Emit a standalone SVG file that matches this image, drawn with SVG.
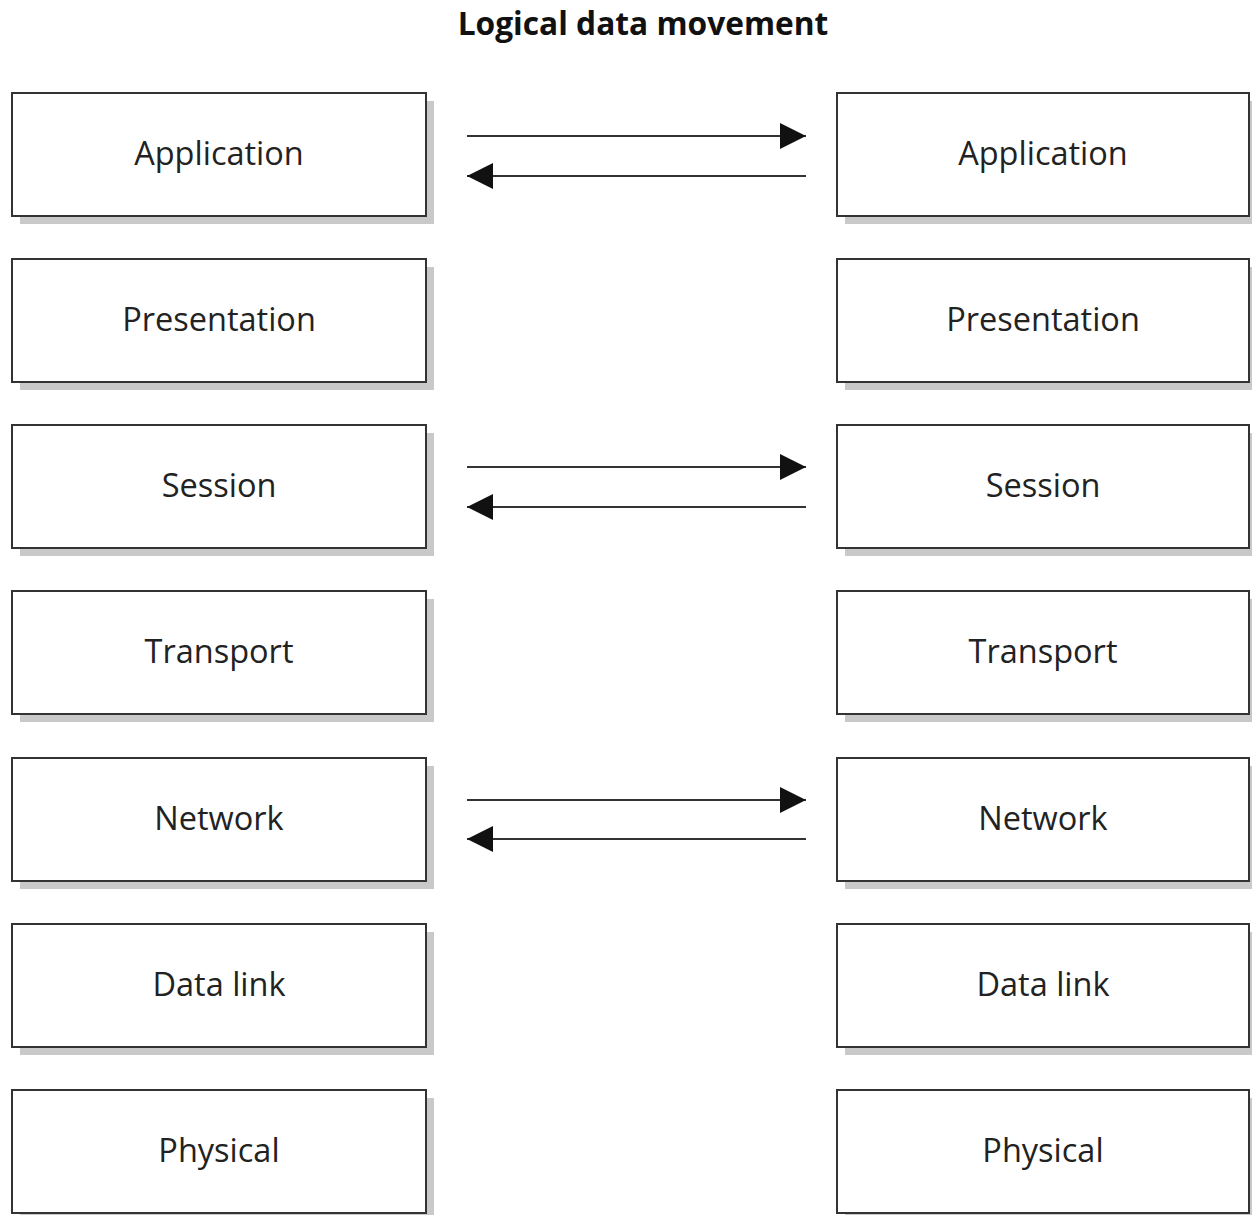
<svg xmlns="http://www.w3.org/2000/svg" width="1252" height="1215" viewBox="0 0 1252 1215">
<defs>
<style>
.sh{fill:#c9c9c9}
.bx{fill:#fff;stroke:#333;stroke-width:2}
.lb{font-family:"Open Sans","Noto Sans",sans-serif;font-size:32.5px;fill:#222;text-anchor:middle}
.tt{font-family:"Open Sans","Noto Sans",sans-serif;font-size:31.7px;font-weight:bold;fill:#111;text-anchor:middle}
.ar{stroke:#333;stroke-width:2;fill:none}
</style>
<marker id="ah" viewBox="0 0 26 26" refX="26" refY="13" markerWidth="26" markerHeight="26" markerUnits="userSpaceOnUse" orient="auto">
<path d="M0,0 L26,13 L0,26 Z" fill="#111"/>
</marker>
</defs>
<rect width="1252" height="1215" fill="#fff"/>
<text class="tt" x="643" y="35">Logical data movement</text>
<g id="L1"><rect class="sh" x="20" y="101" width="414" height="123"/><rect class="bx" x="12" y="93" width="414" height="123"/><text class="lb" x="219" y="165">Application</text></g>
<g id="L2"><rect class="sh" x="20" y="267" width="414" height="123"/><rect class="bx" x="12" y="259" width="414" height="123"/><text class="lb" x="219" y="331">Presentation</text></g>
<g id="L3"><rect class="sh" x="20" y="433" width="414" height="123"/><rect class="bx" x="12" y="425" width="414" height="123"/><text class="lb" x="219" y="497">Session</text></g>
<g id="L4"><rect class="sh" x="20" y="599" width="414" height="123"/><rect class="bx" x="12" y="591" width="414" height="123"/><text class="lb" x="219" y="663">Transport</text></g>
<g id="L5"><rect class="sh" x="20" y="766" width="414" height="123"/><rect class="bx" x="12" y="758" width="414" height="123"/><text class="lb" x="219" y="830">Network</text></g>
<g id="L6"><rect class="sh" x="20" y="932" width="414" height="123"/><rect class="bx" x="12" y="924" width="414" height="123"/><text class="lb" x="219" y="996">Data link</text></g>
<g id="L7"><rect class="sh" x="20" y="1098" width="414" height="123"/><rect class="bx" x="12" y="1090" width="414" height="123"/><text class="lb" x="219" y="1162">Physical</text></g>
<g id="R1"><rect class="sh" x="845" y="101" width="412" height="123"/><rect class="bx" x="837" y="93" width="412" height="123"/><text class="lb" x="1043" y="165">Application</text></g>
<g id="R2"><rect class="sh" x="845" y="267" width="412" height="123"/><rect class="bx" x="837" y="259" width="412" height="123"/><text class="lb" x="1043" y="331">Presentation</text></g>
<g id="R3"><rect class="sh" x="845" y="433" width="412" height="123"/><rect class="bx" x="837" y="425" width="412" height="123"/><text class="lb" x="1043" y="497">Session</text></g>
<g id="R4"><rect class="sh" x="845" y="599" width="412" height="123"/><rect class="bx" x="837" y="591" width="412" height="123"/><text class="lb" x="1043" y="663">Transport</text></g>
<g id="R5"><rect class="sh" x="845" y="766" width="412" height="123"/><rect class="bx" x="837" y="758" width="412" height="123"/><text class="lb" x="1043" y="830">Network</text></g>
<g id="R6"><rect class="sh" x="845" y="932" width="412" height="123"/><rect class="bx" x="837" y="924" width="412" height="123"/><text class="lb" x="1043" y="996">Data link</text></g>
<g id="R7"><rect class="sh" x="845" y="1098" width="412" height="123"/><rect class="bx" x="837" y="1090" width="412" height="123"/><text class="lb" x="1043" y="1162">Physical</text></g>
<g id="connectors">
<line class="ar" x1="467" y1="136" x2="806" y2="136" marker-end="url(#ah)"/>
<line class="ar" x1="806" y1="176" x2="467" y2="176" marker-end="url(#ah)"/>
<line class="ar" x1="467" y1="467" x2="806" y2="467" marker-end="url(#ah)"/>
<line class="ar" x1="806" y1="507" x2="467" y2="507" marker-end="url(#ah)"/>
<line class="ar" x1="467" y1="800" x2="806" y2="800" marker-end="url(#ah)"/>
<line class="ar" x1="806" y1="839" x2="467" y2="839" marker-end="url(#ah)"/>
</g>
</svg>
